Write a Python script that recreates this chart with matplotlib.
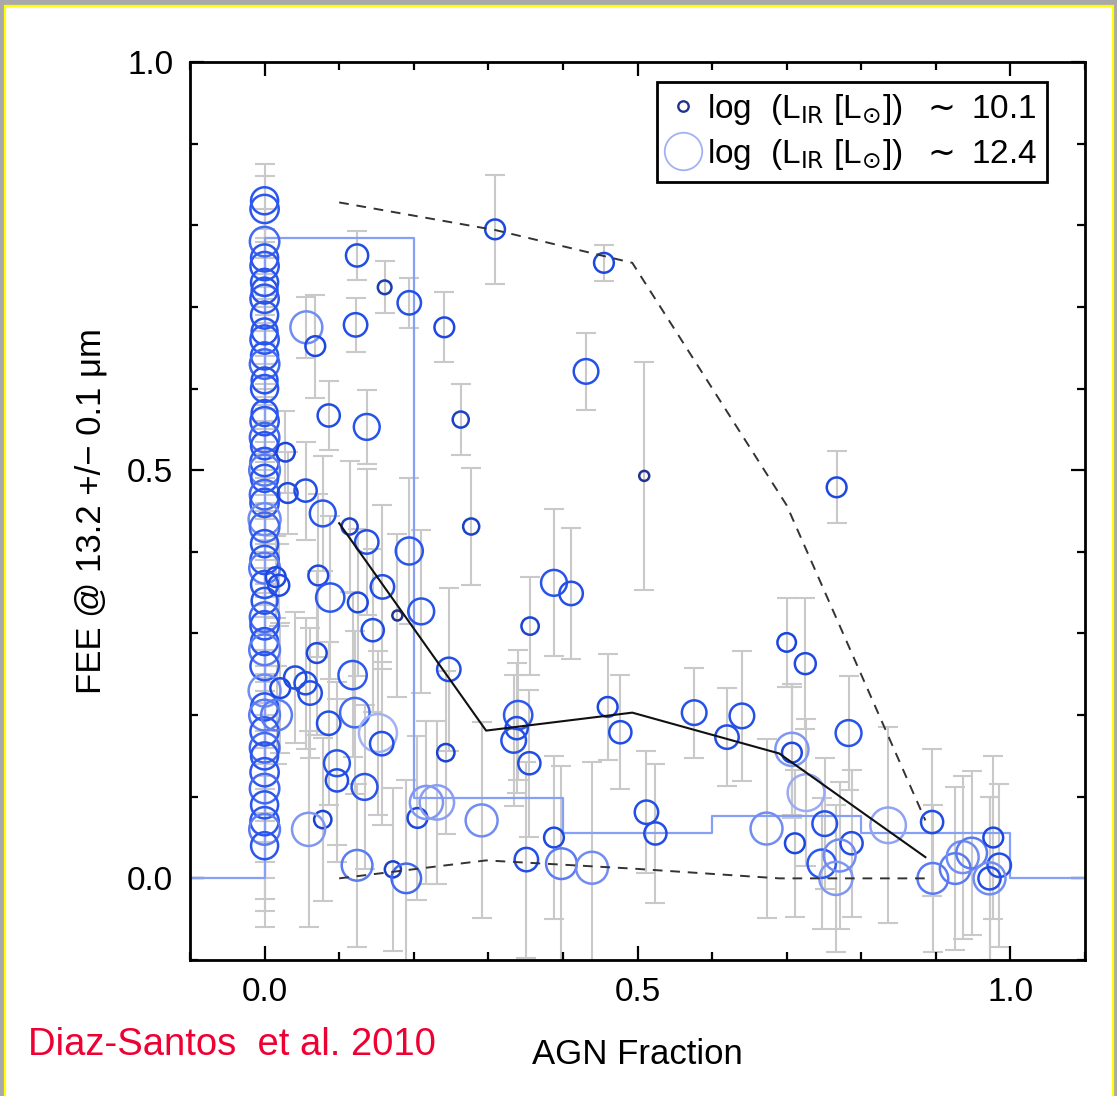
import matplotlib.pyplot as plt
import numpy as np
from matplotlib.colors import LinearSegmentedColormap
from matplotlib.lines import Line2D
from matplotlib.patches import Rectangle

plt.rcParams['font.family'] = ['Liberation Sans', 'DejaVu Sans']

# pure star-forming galaxies (AGN fraction = 0)
fee_zero = [0.83, 0.82, 0.78, 0.76, 0.75, 0.73, 0.72, 0.71, 0.69, 0.67, 0.66, 0.64,
            0.63, 0.61, 0.60, 0.57, 0.56, 0.54, 0.53, 0.51, 0.50, 0.49, 0.47, 0.46,
            0.44, 0.43, 0.41, 0.39, 0.38, 0.36, 0.34, 0.32, 0.31, 0.29, 0.28, 0.26,
            0.23, 0.21, 0.20, 0.18, 0.16, 0.15, 0.13, 0.11, 0.09, 0.07, 0.06, 0.04]
err_zero = [0.045, 0.04, 0.04, 0.035, 0.035, 0.03, 0.04, 0.03, 0.035, 0.04, 0.03, 0.035,
            0.04, 0.035, 0.04, 0.045, 0.04, 0.04, 0.045, 0.04, 0.05, 0.045, 0.05, 0.05,
            0.05, 0.055, 0.05, 0.055, 0.06, 0.055, 0.06, 0.06, 0.065, 0.06, 0.065, 0.06,
            0.07, 0.07, 0.075, 0.07, 0.08, 0.08, 0.085, 0.09, 0.09, 0.095, 0.1, 0.1]
lir_zero = [11.5, 11.6, 11.7, 11.5, 11.6, 11.5, 11.4, 11.6, 11.5, 11.4, 11.6, 11.5,
            11.7, 11.4, 11.5, 11.4, 11.6, 11.7, 11.5, 11.6, 11.8, 11.5, 11.7, 11.6,
            11.9, 11.7, 11.5, 11.6, 11.8, 11.5, 11.4, 11.7, 11.6, 11.5, 11.8, 11.6,
            11.9, 11.5, 11.8, 11.6, 11.7, 11.5, 11.6, 11.7, 11.5, 11.6, 11.8, 11.5]

# galaxies with an AGN contribution
agn_frac = [0.028, 0.056, 0.068, 0.124, 0.161, 0.194, 0.122, 0.241, 0.086, 0.137,
            0.263, 0.309, 0.455, 0.431, 0.509, 0.277, 0.767, 0.031, 0.055, 0.078,
            0.114, 0.137, 0.194, 0.072, 0.088, 0.125, 0.158, 0.178, 0.210, 0.145,
            0.070, 0.118, 0.247, 0.021, 0.041, 0.055, 0.061, 0.086, 0.121, 0.152,
            0.157, 0.097, 0.097, 0.134, 0.078, 0.059, 0.243, 0.205, 0.217, 0.231,
            0.124, 0.172, 0.190, 0.291, 0.015, 0.019, 0.016, 0.356, 0.388, 0.411,
            0.340, 0.338, 0.334, 0.355, 0.460, 0.477, 0.576, 0.640, 0.620, 0.512,
            0.524, 0.388, 0.351, 0.398, 0.439, 0.673, 0.700, 0.725, 0.783, 0.707,
            0.707, 0.726, 0.751, 0.711, 0.787, 0.747, 0.766, 0.771, 0.836, 0.895,
            0.896, 0.926, 0.936, 0.948, 0.977, 0.985, 0.972, 0.972]
fee = [0.522, 0.675, 0.652, 0.763, 0.724, 0.705, 0.678, 0.675, 0.567, 0.553,
       0.562, 0.795, 0.754, 0.621, 0.493, 0.431, 0.479, 0.472, 0.475, 0.447,
       0.431, 0.412, 0.401, 0.371, 0.344, 0.338, 0.357, 0.322, 0.327, 0.304,
       0.276, 0.249, 0.256, 0.233, 0.246, 0.239, 0.227, 0.190, 0.203, 0.178,
       0.165, 0.141, 0.120, 0.112, 0.072, 0.060, 0.154, 0.074, 0.093, 0.093,
       0.016, 0.011, 0.000, 0.071, 0.369, 0.359, 0.200, 0.309, 0.362, 0.349,
       0.200, 0.184, 0.169, 0.141, 0.210, 0.179, 0.203, 0.199, 0.173, 0.081,
       0.055, 0.050, 0.023, 0.018, 0.013, 0.061, 0.289, 0.263, 0.178, 0.154,
       0.158, 0.105, 0.067, 0.043, 0.043, 0.018, 0.000, 0.028, 0.065, 0.069,
       0.000, 0.012, 0.026, 0.031, 0.050, 0.016, 0.000, 0.000]
fee_err = [0.05, 0.037, 0.063, 0.03, 0.032, 0.031, 0.033, 0.043, 0.042, 0.045,
           0.044, 0.067, 0.022, 0.047, 0.14, 0.072, 0.044, 0.05, 0.06, 0.07,
           0.08, 0.09, 0.09, 0.1, 0.1, 0.09, 0.1, 0.1, 0.1, 0.1,
           0.1, 0.1, 0.1, 0.08, 0.08, 0.08, 0.08, 0.1, 0.1, 0.1,
           0.1, 0.1, 0.1, 0.1, 0.1, 0.12, 0.1, 0.1, 0.1, 0.1,
           0.1, 0.1, 0.12, 0.12, 0.05, 0.05, 0.06, 0.06, 0.09, 0.08,
           0.08, 0.08, 0.08, 0.09, 0.065, 0.07, 0.055, 0.08, 0.06, 0.075,
           0.085, 0.1, 0.12, 0.12, 0.13, 0.11, 0.055, 0.08, 0.07, 0.08,
           0.08, 0.09, 0.08, 0.09, 0.09, 0.08, 0.09, 0.09, 0.12, 0.09,
           0.09, 0.1, 0.1, 0.1, 0.1, 0.1, 0.1, 0.1]
log_lir = [10.8, 11.9, 10.9, 11.1, 10.4, 11.2, 11.2, 10.9, 11.1, 11.4,
           10.6, 10.9, 10.9, 11.3, 10.1, 10.6, 10.9, 10.9, 11.1, 11.4,
           10.6, 11.2, 11.5, 10.9, 11.6, 10.9, 11.2, 10.1, 11.4, 11.1,
           10.9, 11.6, 11.2, 10.9, 11.1, 11.1, 11.2, 11.2, 11.7, 12.4,
           11.2, 11.4, 11.1, 11.4, 10.7, 12.0, 10.7, 10.9, 12.0, 12.1,
           11.8, 10.6, 11.7, 11.9, 10.9, 11.0, 11.8, 10.7, 11.4, 11.2,
           11.6, 11.1, 11.3, 11.1, 10.9, 11.1, 11.3, 11.3, 11.2, 11.2,
           11.1, 10.9, 11.2, 11.8, 11.9, 11.9, 10.8, 11.0, 11.4, 10.9,
           12.0, 12.3, 11.3, 10.9, 11.1, 11.6, 12.0, 11.9, 12.2, 11.1,
           11.8, 11.8, 11.9, 11.8, 10.9, 11.2, 11.1, 11.9]

# binned statistics
bin_edges = [-0.1, 0.0, 0.2, 0.4, 0.6, 0.8, 1.0, 1.1]
bin_frac = [0.0, 0.785, 0.098, 0.056, 0.077, 0.056, 0.0]
med_x = [0.1, 0.297, 0.493, 0.69, 0.886]
med_y = [0.435, 0.181, 0.203, 0.153, 0.026]
up_x = [0.1, 0.31, 0.493, 0.7, 0.886]
up_y = [0.828, 0.794, 0.754, 0.457, 0.071]
lo_x = [0.1, 0.297, 0.493, 0.69, 0.886]
lo_y = [0.0, 0.022, 0.012, 0.0, 0.0]

W, H = 1117, 1096
fig = plt.figure(figsize=(W / 100, H / 100), dpi=100, facecolor='#a9a9a9')
fig.patches.append(Rectangle((5 / W, -0.01), 1108 / W, 1 - 6 / H + 0.01, transform=fig.transFigure,
                             facecolor='white', edgecolor='#ffff00', lw=1.6, zorder=-10))
ax = fig.add_axes([190 / W, 1 - 960 / H, 895 / W, 898 / H])

cmap = LinearSegmentedColormap.from_list('lir', [(0.0, '#22338f'), (0.3, '#1a45dd'),
                                                 (0.66, '#2d59f0'), (0.8, '#7b93f1'),
                                                 (1.0, '#a2b1f3')])


def radius_pt(lir):
    return (5 + (np.asarray(lir) - 10.1) / 2.3 * 14) * 0.72


x_all = np.concatenate([np.zeros(len(fee_zero)), agn_frac])
y_all = np.concatenate([fee_zero, fee])
e_all = np.concatenate([err_zero, fee_err])
l_all = np.concatenate([lir_zero, log_lir])

ax.errorbar(x_all, y_all, yerr=e_all, fmt='none', ecolor='#c9c9c9', elinewidth=1.5,
            capsize=7, capthick=1.5, zorder=1)
ax.step(bin_edges, bin_frac + [bin_frac[-1]], where='post', color='#86a0f6', lw=1.6, zorder=2)
norm = np.clip((l_all - 10.1) / 2.3, 0, 1)
ax.scatter(x_all, y_all, s=(2 * radius_pt(l_all)) ** 2, facecolors='none',
           edgecolors=cmap(norm), linewidths=1.8, zorder=3)
ax.plot(med_x, med_y, color='#111111', lw=1.5, zorder=4)
ax.plot(up_x, up_y, color='#333333', lw=1.4, ls=(0, (5, 4)), zorder=4)
ax.plot(lo_x, lo_y, color='#333333', lw=1.4, ls=(0, (5, 4)), zorder=4)

ax.set_xlim(-0.1, 1.1)
ax.set_ylim(-0.1, 1.0)
ax.set_xticks([0.0, 0.5, 1.0])
ax.set_yticks([0.0, 0.5, 1.0])
ax.set_xticks(np.arange(-0.1, 1.11, 0.1), minor=True)
ax.set_yticks(np.arange(-0.1, 1.01, 0.1), minor=True)
ax.tick_params(which='both', direction='in', top=True, right=True, width=1.6,
               labelsize=24, pad=12)
ax.tick_params(which='major', length=10)
ax.tick_params(which='minor', length=5.5)
for s in ax.spines.values():
    s.set_linewidth(2)

ax.set_xlabel('AGN Fraction', fontsize=25, labelpad=22)
ax.set_ylabel('FEE @ 13.2 +/\u2212 0.1 \u03bcm', fontsize=25, labelpad=14)

handles = [Line2D([], [], marker='o', ls='none', markersize=7.5, mfc='none',
                  mec=cmap(0.0), mew=1.7),
           Line2D([], [], marker='o', ls='none', markersize=27, mfc='none',
                  mec=cmap(1.0), mew=1.3)]
labels = ['log  (L$_{\\rm IR}$ [L$_{\\odot}$])  $\\sim$ 10.1',
          'log  (L$_{\\rm IR}$ [L$_{\\odot}$])  $\\sim$ 12.4']
leg = ax.legend(handles, labels, loc='upper right', bbox_to_anchor=(1047 / W, 1 - 82 / H),
                bbox_transform=fig.transFigure, fontsize=24, frameon=True, fancybox=False,
                edgecolor='black', framealpha=1, handlelength=1.0, handletextpad=0.2,
                borderpad=0.3, labelspacing=0.3, borderaxespad=0)
leg.get_frame().set_linewidth(2)

fig.text(28 / W, 1 - 1055 / H, 'Diaz-Santos  et al. 2010', color='#ee0033', fontsize=27.5,
         va='baseline', ha='left')

plt.savefig('out.png', dpi=100, facecolor=fig.get_facecolor())
